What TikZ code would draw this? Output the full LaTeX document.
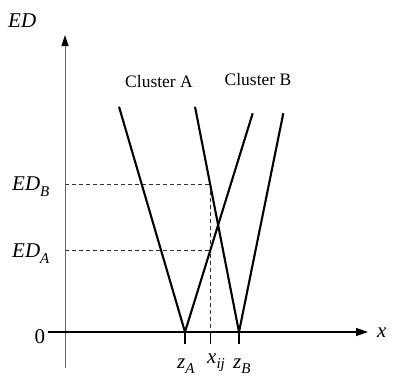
\documentclass[tikz,border=0pt]{standalone}
\usepackage{fontspec}
\setmainfont{Liberation Serif}
\usetikzlibrary{arrows.meta}
\newcommand{\mysub}[2]{{\itshape #1}\raisebox{-5.5pt}{\fontsize{15}{15}\selectfont\itshape #2}}
\begin{document}
\begin{tikzpicture}[x=1pt,y=-1pt,
  vline/.style={line width=2.1pt,black},
  tickline/.style={line width=1.8pt,black},
  guide/.style={line width=0.8pt,black!80,dash pattern=on 4pt off 3pt},
  yaxis/.style={line width=1pt,black!60,-{Triangle[length=11pt,width=7pt,color=black]}},
  xaxis/.style={line width=1.3pt,black,-{Triangle[length=12pt,width=8pt]}},
  mlabel/.style={inner sep=0pt,font=\fontsize{21}{21}\selectfont},
  clabel/.style={inner sep=0pt,font=\fontsize{17.5}{17.5}\selectfont}]
\useasboundingbox (0,0) rectangle (393,378);
% key points
\coordinate (O) at (65,332);
\coordinate (ybot) at (65,368);
\coordinate (ytop) at (65,35);
\coordinate (xleft) at (48,332);
\coordinate (xright) at (368,332);
\coordinate (zA) at (185,332);
\coordinate (zB) at (239,332);
\coordinate (xij) at (210.5,332);
\coordinate (zAt) at (185,344);
\coordinate (zBt) at (239,344);
\coordinate (xijt) at (210.5,344);
\coordinate (a1) at (119,106.7);
\coordinate (a2) at (252.7,113.3);
\coordinate (b1) at (195,106.7);
\coordinate (b2) at (283.3,113.3);
\coordinate (EDBy) at (65,184);
\coordinate (EDAy) at (65,250.7);
\coordinate (PB) at (210.5,184);
\coordinate (PA) at (210.5,250.7);
% guides
\draw[guide] (EDBy) -- (PB);
\draw[guide] (EDAy) -- (PA);
\draw[guide] (PB) -- (xij);
% axes
\draw[yaxis] (ybot) -- (ytop);
\draw[xaxis] (xleft) -- (xright);
% V lines
\draw[vline] (a1) -- (zA) -- (a2);
\draw[vline] (b1) -- (zB) -- (b2);
% ticks
\draw[tickline] (zA) -- (zAt);
\draw[tickline] (zB) -- (zBt);
\draw[tickline] (xij) -- (xijt);
% labels
\node[mlabel,anchor=base west] (lED) at (8,27) {\itshape ED};
\node[mlabel,anchor=base west] (lEDB) at (12,190.5) {\mysub{ED}{B}};
\node[mlabel,anchor=base west] (lEDA) at (12,257.5) {\mysub{ED}{A}};
\node[mlabel,anchor=base west] (l0) at (34.5,343) {0};
\node[mlabel,anchor=base west] (lx) at (377,337) {\itshape x};
\node[mlabel,anchor=base west] (lzA) at (177,368) {\mysub{z}{A}};
\node[mlabel,anchor=base west] (lxij) at (207,363) {\mysub{x}{ij}};
\node[mlabel,anchor=base west] (lzB) at (233,368) {\mysub{z}{B}};
\node[clabel,anchor=base] (cA) at (159,87) {Cluster A};
\node[clabel,anchor=base] (cB) at (258,85) {Cluster B};
\end{tikzpicture}
\end{document}
